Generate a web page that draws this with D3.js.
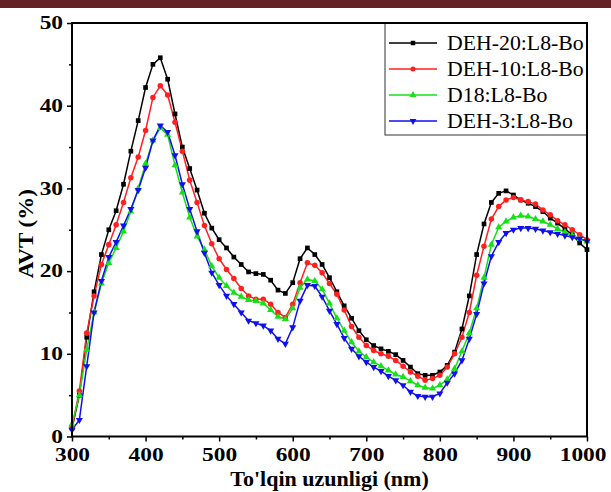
<!DOCTYPE html>
<html><head><meta charset="utf-8">
<script src="https://cdn.jsdelivr.net/npm/d3@7"></script>
<style>body{margin:0;background:#fff}svg{display:block}</style>
</head><body><svg id="c" width="611" height="492"></svg>
<script>
const wavelengths = d3.range(300, 1001, 10);
const seriesNames = ["DEH-20:L8-Bo", "DEH-10:L8-Bo", "D18:L8-Bo", "DEH-3:L8-Bo"];
const deh20 = [1.0,5.0,12.0,17.5,22.0,25.0,27.3,30.5,34.5,38.2,42.2,45.0,45.8,43.2,39.0,35.0,32.4,29.8,27.0,25.2,23.8,22.8,21.7,20.8,19.9,19.7,19.6,18.9,17.7,17.3,18.6,21.5,22.8,22.0,20.8,19.2,17.5,15.8,14.3,12.8,11.7,11.0,10.6,10.3,9.9,9.2,8.4,7.6,7.4,7.4,7.8,8.6,10.2,13.0,17.0,22.0,25.7,28.3,29.4,29.7,29.2,28.6,28.2,27.8,27.2,26.4,25.8,25.1,24.4,23.4,22.6];
const deh10 = [1.0,5.5,12.5,17.0,20.8,23.2,25.6,28.3,31.3,33.8,37.0,41.0,42.4,41.3,38.0,34.5,31.0,28.3,25.5,23.3,21.5,20.2,19.1,17.9,17.0,16.6,16.6,16.0,15.0,14.4,16.0,18.6,21.0,20.7,19.8,18.5,17.2,15.3,13.3,12.0,11.0,10.4,10.0,9.7,9.2,8.5,7.8,7.3,6.8,7.0,7.4,8.4,10.0,12.0,15.0,19.5,23.0,26.3,27.8,28.6,28.9,28.6,28.4,28.1,27.4,26.8,26.1,25.6,25.0,24.4,23.8];
const d18 = [1.5,5.0,10.5,15.0,18.5,21.0,22.8,24.8,27.2,30.0,33.0,35.8,37.3,36.5,32.8,29.5,26.5,24.2,22.6,20.6,19.2,18.2,17.4,16.9,16.5,16.4,16.1,15.3,14.5,14.2,15.5,18.0,19.0,18.8,17.8,16.1,14.3,12.8,11.4,10.3,9.6,9.0,8.5,8.0,7.5,7.2,6.7,6.2,5.9,5.8,6.2,6.9,8.2,10.3,12.5,15.5,19.2,23.2,25.3,26.0,26.5,26.7,26.6,26.3,26.0,25.6,25.1,24.7,24.3,23.9,23.6];
const deh3 = [0.8,2.0,8.5,15.0,18.8,21.7,23.5,25.5,27.5,29.8,32.5,35.8,37.6,36.8,34.0,30.5,27.5,24.8,22.2,19.8,18.3,17.0,16.0,15.0,14.0,13.7,13.4,12.8,11.8,11.2,13.2,16.4,18.3,18.2,16.9,15.2,13.6,11.9,10.6,9.7,9.0,8.4,7.9,7.3,6.8,6.2,5.4,4.9,4.8,4.8,5.2,6.5,7.6,9.2,11.8,14.8,18.5,21.8,23.5,24.6,25.0,25.2,25.2,25.1,24.9,24.7,24.5,24.3,24.1,23.9,23.6];
const xTicks = [300,400,500,600,700,800,900,1000];
const yTicks = [0,10,20,30,40,50];
const colors = ["#000000","#ff2020","#16e016","#1010ee"];
const symbols = [d3.symbolSquare, d3.symbolCircle, d3.symbolTriangle, "down"];
const allSeries = [deh20, deh10, d18, deh3];

const svg = d3.select("#c");
const L = 72, R = 587, T = 23, B = 436.5;
const x = d3.scaleLinear().domain([300,1000]).range([L,R]);
const y = d3.scaleLinear().domain([0,50]).range([B,T]);
const font = "'Liberation Serif','Times New Roman',serif";
const SX = 1.3;

// top band
svg.append("rect").attr("x",0).attr("y",0).attr("width",611).attr("height",8).attr("fill","#652226");

// axes
const xAxis = svg.append("g").attr("transform",`translate(0,${B})`)
  .call(d3.axisBottom(x).tickValues(xTicks).tickSize(5).tickPadding(7).tickFormat(d3.format("d")));
const xMinor = svg.append("g").attr("transform",`translate(0,${B})`)
  .call(d3.axisBottom(x).tickValues(d3.range(350,1000,100)).tickSize(3).tickFormat(""));
const yAxis = svg.append("g").attr("transform",`translate(${L},0)`)
  .call(d3.axisLeft(y).tickValues(yTicks).tickSize(5).tickPadding(4).tickFormat(d3.format("d")));
const yMinor = svg.append("g").attr("transform",`translate(${L},0)`)
  .call(d3.axisLeft(y).tickValues(d3.range(5,50,10)).tickSize(3).tickFormat(""));
[xAxis,xMinor,yAxis,yMinor].forEach(g=>{
  g.select(".domain").remove();
  g.selectAll("line").attr("stroke","#000").attr("stroke-width",1.5);
  g.selectAll("text").attr("font-family",font).attr("font-weight","bold").attr("font-size",18).attr("fill","#000");
});
xAxis.selectAll("text").attr("dy","0.72em").attr("transform",`scale(${SX},1)`)
  .filter(d=>d===1000).attr("text-anchor","end").attr("x",19/SX);
yAxis.selectAll("text").attr("dy","0.32em").attr("x",-9/SX).attr("transform",`scale(${SX},1)`);

// lines & markers
const line = d3.line().x((d,i)=>x(wavelengths[i])).y(d=>y(d));
const plot = svg.append("g");
allSeries.forEach((s,k)=>{
  plot.append("path").datum(s).attr("d",line).attr("fill","none").attr("stroke",colors[k]).attr("stroke-width",1.5);
});
function marker(k, size){
  if (symbols[k]==="down") return d3.symbol().type(d3.symbolTriangle).size(size)();
  return d3.symbol().type(symbols[k]).size(size)();
}
allSeries.forEach((s,k)=>{
  plot.append("g").selectAll("path").data(s).join("path")
    .attr("d",marker(k, k===1?24:22))
    .attr("transform",(d,i)=>`translate(${x(wavelengths[i])},${y(d)})${symbols[k]==="down"?" rotate(180)":""}`)
    .attr("fill",colors[k]);
});

// legend
const lg = svg.append("g");
lg.append("rect").attr("x",385).attr("y",T).attr("width",R-385).attr("height",112)
  .attr("fill","#fff").attr("stroke","#333").attr("stroke-width",1);
seriesNames.forEach((n,k)=>{
  const yy = 43 + k*26;
  lg.append("line").attr("x1",389).attr("x2",437).attr("y1",yy).attr("y2",yy).attr("stroke",colors[k]).attr("stroke-width",1.5);
  lg.append("path").attr("d",marker(k,20)).attr("transform",`translate(413,${yy})${symbols[k]==="down"?" rotate(180)":""}`).attr("fill",colors[k]);
  lg.append("text").attr("transform",`translate(447,${yy}) scale(1.09,1)`).attr("dy","0.35em")
    .attr("font-family",font).attr("font-size",20).attr("fill","#000").text(n);
});
// frame
svg.append("rect").attr("x",L).attr("y",T).attr("width",R-L).attr("height",B-T)
  .attr("fill","none").attr("stroke","#000").attr("stroke-width",2);

// axis titles
svg.append("text").attr("transform",`translate(${(L+R)/2},486) scale(1.1,1)`).attr("text-anchor","middle")
  .attr("font-family",font).attr("font-weight","bold").attr("font-size",20).text("To'lqin uzunligi (nm)");
svg.append("text").attr("transform",`translate(33,${(T+B)/2+4}) rotate(-90) scale(1.15,1)`).attr("text-anchor","middle")
  .attr("font-family",font).attr("font-weight","bold").attr("font-size",20).text("AVT (%)");
</script></body></html>
